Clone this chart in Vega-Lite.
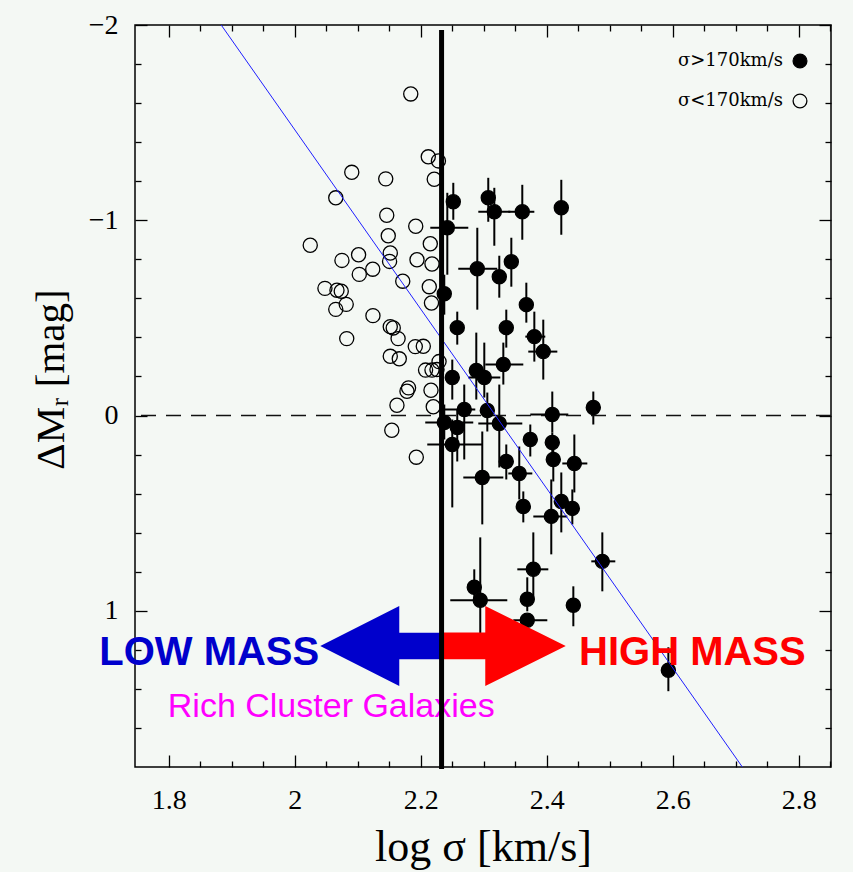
{
  "$schema": "https://vega.github.io/schema/vega-lite/v6.json",
  "width": 696,
  "height": 742,
  "autosize": {"type": "none"},
  "padding": {"left": 135, "top": 25, "right": 22, "bottom": 105},
  "background": "#f4f8f4",
  "config": {"view": {"stroke": "black", "strokeWidth": 1.5}},
  "data": {"values": [{"note": "annotation"}]},
  "datasets": {
    "gal": [
      {"s":"σ<170km/s","x":2.1841,"y":-1.647},{"s":"σ<170km/s","x":2.2119,"y":-1.325},{"s":"σ<170km/s","x":2.228,"y":-1.304},
      {"s":"σ<170km/s","x":2.2214,"y":-1.21},{"s":"σ<170km/s","x":2.0905,"y":-1.2455},{"s":"σ<170km/s","x":2.1444,"y":-1.212},
      {"s":"σ<170km/s","x":2.0651,"y":-1.115},{"s":"σ<170km/s","x":2.146,"y":-1.0256},{"s":"σ<170km/s","x":2.192,"y":-0.9693},
      {"s":"σ<170km/s","x":2.1484,"y":-0.9207},{"s":"σ<170km/s","x":2.0246,"y":-0.8721},{"s":"σ<170km/s","x":2.2151,"y":-0.8798},
      {"s":"σ<170km/s","x":2.1013,"y":-0.8235},{"s":"σ<170km/s","x":2.0749,"y":-0.7944},{"s":"σ<170km/s","x":2.1516,"y":-0.8322},
      {"s":"σ<170km/s","x":2.1505,"y":-0.7893},{"s":"σ<170km/s","x":2.194,"y":-0.798},{"s":"σ<170km/s","x":2.2178,"y":-0.776},
      {"s":"σ<170km/s","x":2.1238,"y":-0.7494},{"s":"σ<170km/s","x":2.1024,"y":-0.7228},{"s":"σ<170km/s","x":2.1714,"y":-0.688},
      {"s":"σ<170km/s","x":2.2135,"y":-0.6598},{"s":"σ<170km/s","x":2.0479,"y":-0.6512},{"s":"σ<170km/s","x":2.067,"y":-0.642},
      {"s":"σ<170km/s","x":2.0738,"y":-0.6368},{"s":"σ<170km/s","x":2.0817,"y":-0.5693},{"s":"σ<170km/s","x":2.0651,"y":-0.5437},
      {"s":"σ<170km/s","x":2.217,"y":-0.5765},{"s":"σ<170km/s","x":2.1241,"y":-0.5115},{"s":"σ<170km/s","x":2.1516,"y":-0.4552},
      {"s":"σ<170km/s","x":2.1563,"y":-0.4486},{"s":"σ<170km/s","x":2.0825,"y":-0.3939},{"s":"σ<170km/s","x":2.164,"y":-0.3939},
      {"s":"σ<170km/s","x":2.1913,"y":-0.3529},{"s":"σ<170km/s","x":2.204,"y":-0.3545},{"s":"σ<170km/s","x":2.1516,"y":-0.3033},
      {"s":"σ<170km/s","x":2.1659,"y":-0.2905},{"s":"σ<170km/s","x":2.229,"y":-0.2762},{"s":"σ<170km/s","x":2.2076,"y":-0.2327},
      {"s":"σ<170km/s","x":2.2178,"y":-0.2327},{"s":"σ<170km/s","x":2.2257,"y":-0.2353},{"s":"σ<170km/s","x":2.1806,"y":-0.1417},
      {"s":"σ<170km/s","x":2.1781,"y":-0.1243},{"s":"σ<170km/s","x":2.2162,"y":-0.1294},{"s":"σ<170km/s","x":2.1622,"y":-0.0527},
      {"s":"σ<170km/s","x":2.2198,"y":-0.045},{"s":"σ<170km/s","x":2.154,"y":0.0752},{"s":"σ<170km/s","x":2.1929,"y":0.2133},
      {"s":"σ>170km/s","x":2.2516,"y":-1.0946,"ylo":-1.1918,"yhi":-1.0026},
      {"s":"σ>170km/s","x":2.3071,"y":-1.1151,"ylo":-1.2174,"yhi":-0.9923},
      {"s":"σ>170km/s","x":2.3167,"y":-1.0435,"ylo":-1.1662,"yhi":-0.8696,"xlo":2.2913,"xhi":2.3421},
      {"s":"σ>170km/s","x":2.3611,"y":-1.0435,"ylo":-1.1816,"yhi":-0.9003,"xlo":2.3389,"xhi":2.3802},
      {"s":"σ>170km/s","x":2.423,"y":-1.0639,"ylo":-1.2072,"yhi":-0.9258},
      {"s":"σ>170km/s","x":2.2421,"y":-0.9616,"ylo":-1.1407,"yhi":-0.7212,"xlo":2.2151,"xhi":2.2754},
      {"s":"σ>170km/s","x":2.2897,"y":-0.7519,"ylo":-0.9616,"yhi":-0.5422,"xlo":2.2595,"xhi":2.3214},
      {"s":"σ>170km/s","x":2.3246,"y":-0.711,"ylo":-0.8184,"yhi":-0.6036},
      {"s":"σ>170km/s","x":2.3437,"y":-0.7877,"ylo":-0.9105,"yhi":-0.6598},
      {"s":"σ>170km/s","x":2.2373,"y":-0.624,"ylo":-0.7212,"yhi":-0.5166},
      {"s":"σ>170km/s","x":2.3675,"y":-0.5678,"ylo":-0.6803,"yhi":-0.4757},
      {"s":"σ>170km/s","x":2.2579,"y":-0.4501,"ylo":-0.532,"yhi":-0.3632},
      {"s":"σ>170km/s","x":2.3357,"y":-0.4501,"ylo":-0.5422,"yhi":-0.3478},
      {"s":"σ>170km/s","x":2.3802,"y":-0.4041,"ylo":-0.532,"yhi":-0.2762,"xlo":2.3659,"xhi":2.3976},
      {"s":"σ>170km/s","x":2.3944,"y":-0.3274,"ylo":-0.491,"yhi":-0.1841,"xlo":2.3706,"xhi":2.4167},
      {"s":"σ>170km/s","x":2.331,"y":-0.2609,"ylo":-0.3734,"yhi":-0.1586,"xlo":2.3024,"xhi":2.3627},
      {"s":"σ>170km/s","x":2.2881,"y":-0.2302,"ylo":-0.4246,"yhi":-0.0818},
      {"s":"σ>170km/s","x":2.3008,"y":-0.1944,"ylo":-0.3734,"yhi":-0.0921,"xlo":2.2754,"xhi":2.3262},
      {"s":"σ>170km/s","x":2.25,"y":-0.1944,"ylo":-0.2864,"yhi":-0.0818},
      {"s":"σ>170km/s","x":2.269,"y":-0.0307,"ylo":-0.1586,"yhi":0.225,"xlo":2.2357,"xhi":2.2865},
      {"s":"σ>170km/s","x":2.3056,"y":-0.0256,"ylo":-0.1176,"yhi":0.0818},
      {"s":"σ>170km/s","x":2.3246,"y":0.0409,"ylo":-0.1586,"yhi":0.266,"xlo":2.2913,"xhi":2.3611},
      {"s":"σ>170km/s","x":2.2373,"y":0.0358,"ylo":-0.0563,"yhi":0.1228,"xlo":2.2071,"xhi":2.2833},
      {"s":"σ>170km/s","x":2.2579,"y":0.0614,"ylo":-0.0307,"yhi":0.2353},
      {"s":"σ>170km/s","x":2.25,"y":0.1483,"ylo":0.0205,"yhi":0.4706,"xlo":2.2103,"xhi":2.2976},
      {"s":"σ>170km/s","x":2.4087,"y":-0.0051,"ylo":-0.1228,"yhi":0.087,"xlo":2.3738,"xhi":2.4341},
      {"s":"σ>170km/s","x":2.4738,"y":-0.0409,"ylo":-0.1228,"yhi":0.046},
      {"s":"σ>170km/s","x":2.3738,"y":0.1228,"ylo":0.046,"yhi":0.2097},
      {"s":"σ>170km/s","x":2.4087,"y":0.1381,"ylo":0.087,"yhi":0.2148},
      {"s":"σ>170km/s","x":2.4103,"y":0.2251,"ylo":0.1228,"yhi":0.3376},
      {"s":"σ>170km/s","x":2.4437,"y":0.2455,"ylo":0.0972,"yhi":0.3939,"xlo":2.4246,"xhi":2.4643},
      {"s":"σ>170km/s","x":2.3357,"y":0.2353,"ylo":0.1483,"yhi":0.3274},
      {"s":"σ>170km/s","x":2.2976,"y":0.3171,"ylo":0.0818,"yhi":0.5575,"xlo":2.2675,"xhi":2.331},
      {"s":"σ>170km/s","x":2.3563,"y":0.2967,"ylo":0.1586,"yhi":0.4297,"xlo":2.3389,"xhi":2.377},
      {"s":"σ>170km/s","x":2.3627,"y":0.4655,"ylo":0.3887,"yhi":0.5473},
      {"s":"σ>170km/s","x":2.4071,"y":0.5166,"ylo":0.3274,"yhi":0.711,"xlo":2.3786,"xhi":2.4325},
      {"s":"σ>170km/s","x":2.423,"y":0.4399,"ylo":0.2916,"yhi":0.5985},
      {"s":"σ>170km/s","x":2.4405,"y":0.4757,"ylo":0.3785,"yhi":0.5575},
      {"s":"σ>170km/s","x":2.4881,"y":0.7468,"ylo":0.5985,"yhi":0.9003,"xlo":2.4706,"xhi":2.5087},
      {"s":"σ>170km/s","x":2.3786,"y":0.7877,"ylo":0.5985,"yhi":0.9412,"xlo":2.3532,"xhi":2.4024},
      {"s":"σ>170km/s","x":2.2849,"y":0.8798,"ylo":0.7877,"yhi":0.9412},
      {"s":"σ>170km/s","x":2.2944,"y":0.9463,"ylo":0.624,"yhi":1.1458,"xlo":2.2468,"xhi":2.3373},
      {"s":"σ>170km/s","x":2.369,"y":0.9412,"ylo":0.8286,"yhi":1.0026},
      {"s":"σ>170km/s","x":2.369,"y":1.0486,"xlo":2.3468,"xhi":2.4008},
      {"s":"σ>170km/s","x":2.4421,"y":0.9719,"ylo":0.8747,"yhi":1.0793},
      {"s":"σ>170km/s","x":2.5929,"y":1.3043,"ylo":1.1867,"yhi":1.4118}
    ],
    "fit": [{"x": 1.8833, "y": -2}, {"x": 2.7103, "y": 1.8}]
  },
  "layer": [
    {
      "data": {"name": "gal"},
      "transform": [{"filter": "isValid(datum.xlo)"}],
      "mark": {"type": "rule", "color": "black", "strokeWidth": 2},
      "encoding": {
        "x": {"field": "xlo", "type": "quantitative", "scale": {"domain": [1.7465, 2.851], "nice": false, "zero": false},
          "axis": {"orient": "bottom", "values": [1.85, 1.9, 1.95, 2.05, 2.1, 2.15, 2.25, 2.3, 2.35, 2.45, 2.5, 2.55, 2.65, 2.7, 2.75, 2.85], "tickSize": -6, "tickWidth": 1.3, "tickColor": "black", "labels": false, "domain": false, "grid": false, "title": null}},
        "x2": {"field": "xhi"},
        "y": {"field": "y", "type": "quantitative", "scale": {"domain": [-2, 1.8], "nice": false, "zero": false, "reverse": true},
          "axis": {"orient": "left", "values": [-1.8, -1.6, -1.4, -1.2, -0.8, -0.6, -0.4, -0.2, 0.2, 0.4, 0.6, 0.8, 1.2, 1.4, 1.6], "tickSize": -6, "tickWidth": 1.3, "tickColor": "black", "labels": false, "domain": false, "grid": false, "title": null}}
      }
    },
    {
      "data": {"name": "gal"},
      "transform": [{"filter": "isValid(datum.ylo)"}],
      "mark": {"type": "rule", "color": "black", "strokeWidth": 2},
      "encoding": {
        "x": {"field": "x", "type": "quantitative", "scale": {"domain": [1.7465, 2.851], "nice": false, "zero": false},
          "axis": {"orient": "top", "values": [1.8, 2, 2.2, 2.4, 2.6, 2.8], "tickSize": -12, "tickWidth": 1.3, "tickColor": "black", "labels": false, "domain": false, "grid": false, "title": null}},
        "y": {"field": "ylo", "type": "quantitative", "scale": {"domain": [-2, 1.8], "nice": false, "zero": false, "reverse": true},
          "axis": {"orient": "right", "values": [-2, -1, 0, 1], "tickSize": -12, "tickWidth": 1.3, "tickColor": "black", "labels": false, "domain": false, "grid": false, "title": null}},
        "y2": {"field": "yhi"}
      }
    },
    {
      "mark": {"type": "rule", "color": "#111111", "strokeWidth": 1.4, "strokeDash": [15, 10]},
      "encoding": {"y": {"datum": 0, "type": "quantitative", "axis": null, "scale": {"domain": [-2, 1.8], "nice": false, "zero": false, "reverse": true}}}
    },
    {
      "data": {"name": "gal"},
      "mark": {"type": "point", "shape": "circle", "size": 200, "stroke": "black", "strokeWidth": 1.3, "opacity": 1, "fillOpacity": 1},
      "encoding": {
        "x": {"field": "x", "type": "quantitative", "scale": {"domain": [1.7465, 2.851], "nice": false, "zero": false},
          "axis": {"orient": "bottom", "values": [1.8, 2, 2.2, 2.4, 2.6, 2.8], "format": "~g", "tickSize": -12, "tickWidth": 1.3, "tickColor": "black", "domain": false, "grid": false, "labelFlush": false, "labelOverlap": false, "labelFont": "Liberation Serif", "labelFontSize": 28, "labelColor": "black", "labelPadding": 31, "title": "log σ [km/s]", "titleFont": "Liberation Serif", "titleFontSize": 44, "titleFontWeight": "normal", "titleColor": "black", "titlePadding": 11}},
        "y": {"field": "y", "type": "quantitative", "scale": {"domain": [-2, 1.8], "nice": false, "zero": false, "reverse": true},
          "axis": {"orient": "left", "values": [-2, -1, 0, 1], "format": "~g", "tickSize": -12, "tickWidth": 1.3, "tickColor": "black", "domain": false, "grid": false, "labelFlush": false, "labelOverlap": false, "labelFont": "Liberation Serif", "labelFontSize": 28, "labelColor": "black", "labelPadding": 29, "title": "ΔMᵣ [mag]", "titleFont": "Liberation Serif", "titleFontSize": 41, "titleFontWeight": "normal", "titleColor": "black", "titlePadding": 16, "titleY": 354}},
        "fill": {"field": "s", "type": "nominal", "scale": {"domain": ["σ>170km/s", "σ<170km/s"], "range": ["black", "transparent"]},
          "legend": {"orient": "none", "legendX": 656, "legendY": 27, "title": null, "padding": 0, "labelFont": "DejaVu Serif", "labelFontSize": 18, "labelColor": "black", "labelAlign": "right", "labelOffset": -26, "symbolType": "circle", "symbolSize": 190, "symbolStrokeColor": "black", "symbolStrokeWidth": 1.3, "rowPadding": 20}}
      }
    },
    {
      "data": {"name": "fit"},
      "mark": {"type": "line", "color": "#1f1fff", "strokeWidth": 1},
      "encoding": {
        "x": {"field": "x", "type": "quantitative", "scale": {"domain": [1.7465, 2.851], "nice": false, "zero": false},
          "axis": {"orient": "top", "values": [1.85, 1.9, 1.95, 2.05, 2.1, 2.15, 2.25, 2.3, 2.35, 2.45, 2.5, 2.55, 2.65, 2.7, 2.75, 2.85], "tickSize": -6, "tickWidth": 1.3, "tickColor": "black", "labels": false, "domain": false, "grid": false, "title": null}},
        "y": {"field": "y", "type": "quantitative", "scale": {"domain": [-2, 1.8], "nice": false, "zero": false, "reverse": true},
          "axis": {"orient": "right", "values": [-1.8, -1.6, -1.4, -1.2, -0.8, -0.6, -0.4, -0.2, 0.2, 0.4, 0.6, 0.8, 1.2, 1.4, 1.6], "tickSize": -6, "tickWidth": 1.3, "tickColor": "black", "labels": false, "domain": false, "grid": false, "title": null}}
      }
    },
    {
      "mark": {"type": "point", "shape": "M-1,0L0.306,-0.661L0.306,-0.22L1,-0.22L1,0.22L0.306,0.22L0.306,0.661Z", "size": 14641, "filled": true, "color": "#0000cc", "opacity": 1, "strokeWidth": 0},
      "encoding": {"x": {"datum": 2.1365, "type": "quantitative", "axis": null}, "y": {"datum": 1.18, "type": "quantitative", "axis": null}}
    },
    {
      "mark": {"type": "point", "shape": "M1,0L-0.293,-0.643L-0.293,-0.214L-1,-0.214L-1,0.214L-0.293,0.214L-0.293,0.643Z", "size": 15500, "filled": true, "color": "#ff0000", "opacity": 1, "strokeWidth": 0},
      "encoding": {"x": {"datum": 2.3313, "type": "quantitative", "axis": null}, "y": {"datum": 1.18, "type": "quantitative", "axis": null}}
    },
    {
      "mark": {"type": "text", "text": "LOW MASS", "font": "Liberation Sans", "fontWeight": "bold", "fontSize": 40, "color": "#0000cc", "align": "center", "baseline": "alphabetic"},
      "encoding": {"x": {"datum": 1.8643, "type": "quantitative", "axis": null}, "y": {"datum": 1.2788, "type": "quantitative", "axis": null}}
    },
    {
      "mark": {"type": "text", "text": "HIGH MASS", "font": "Liberation Sans", "fontWeight": "bold", "fontSize": 40, "color": "#ff0000", "align": "center", "baseline": "alphabetic"},
      "encoding": {"x": {"datum": 2.631, "type": "quantitative", "axis": null}, "y": {"datum": 1.2788, "type": "quantitative", "axis": null}}
    },
    {
      "mark": {"type": "text", "text": "Rich Cluster Galaxies", "font": "Liberation Sans", "fontSize": 34, "color": "#ff00ff", "align": "center", "baseline": "alphabetic"},
      "encoding": {"x": {"datum": 2.0579, "type": "quantitative", "axis": null}, "y": {"datum": 1.5448, "type": "quantitative", "axis": null}}
    },
    {
      "mark": {"type": "rule", "color": "black", "strokeWidth": 5},
      "encoding": {"x": {"datum": 2.233, "type": "quantitative", "axis": null}, "y": {"datum": -1.974, "type": "quantitative", "axis": null}, "y2": {"datum": 1.81}}
    }
  ],
  "resolve": {"axis": {"x": "independent", "y": "independent"}}
}
